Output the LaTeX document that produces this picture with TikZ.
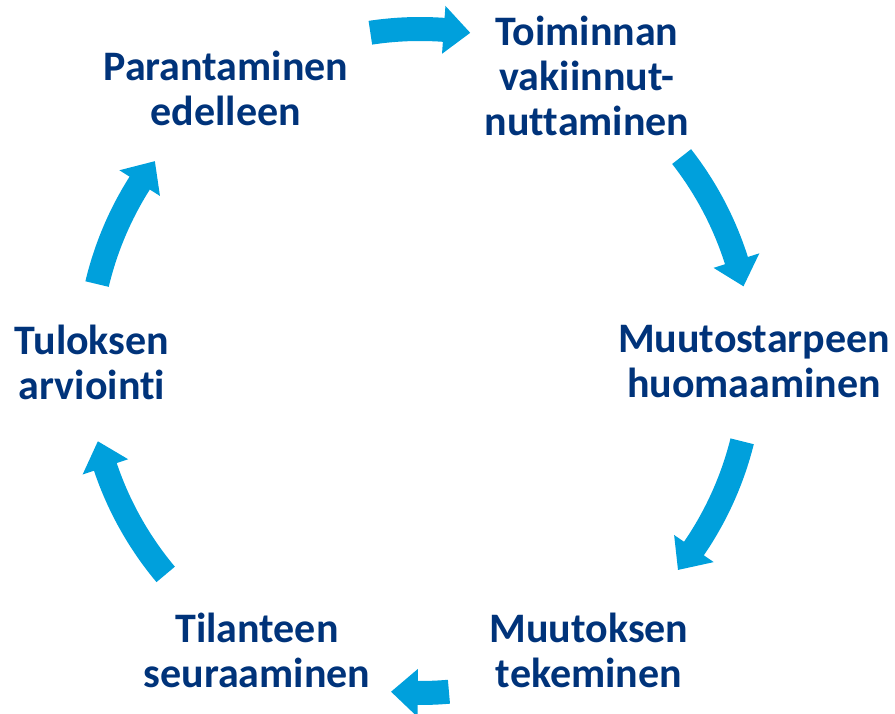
\documentclass[tikz,border=0pt]{standalone}
\usepackage{fontspec}
\setmainfont{Carlito}[Ligatures=NoCommon]
\definecolor{arrowblue}{RGB}{0,160,220}
\definecolor{textblue}{RGB}{0,51,122}
\newcommand{\cyclearrow}[2]{% start angle, tip angle (clockwise)
  \pgfmathsetmacro{\ah}{#2+4.6}
  \fill[arrowblue] (#1:344pt) arc[start angle=#1, end angle=\ah, radius=344pt]
    -- (\ah:356pt) -- (#2:332pt) -- (\ah:308pt) -- (\ah:320pt)
    arc[start angle=\ah, end angle=#1, radius=320pt] -- cycle;
}
\begin{document}
\begin{tikzpicture}[x=1pt,y=1pt,
  lbl/.style={text=textblue, font=\fontsize{42}{45}\selectfont\bfseries, align=center, inner sep=0pt}]
\useasboundingbox (0,0) rectangle (895,714);
\node[lbl] (par) at (226,626) {Parantaminen\\edelleen};
\node[lbl] (toi) at (587,638) {Toiminnan\\vakiinnut-\\nuttaminen};
\node[lbl] (muu) at (754,352) {Muutostarpeen\\huomaaminen};
\node[lbl] (tek) at (589,64) {Muutoksen\\tekeminen};
\node[lbl] (til) at (257,64) {Tilanteen\\seuraaminen};
\node[lbl] (tul) at (92,352) {Tuloksen\\arviointi};
\begin{scope}[shift={(420,353)}]
  \cyclearrow{98.6}{81.3}
  \cyclearrow{38}{13}
  \cyclearrow{-14}{-39}
  \cyclearrow{-85}{-95}
  \cyclearrow{-140}{-166}
  \cyclearrow{166.6}{143}
\end{scope}
\end{tikzpicture}
\end{document}
